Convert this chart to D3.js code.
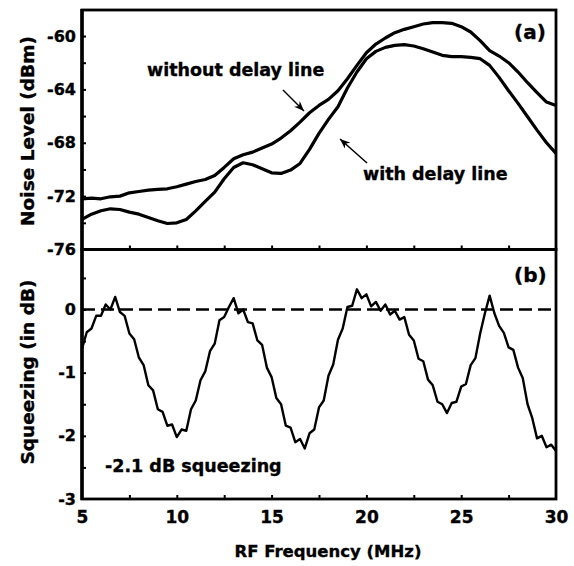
<!DOCTYPE html>
<html>
<head>
<meta charset="utf-8">
<script src="https://cdn.jsdelivr.net/npm/d3@7/dist/d3.min.js"></script>
<style>
body { margin: 0; background: #fff; }
svg text { font-family: "DejaVu Sans", sans-serif; font-weight: bold; fill: #000; stroke: #000; stroke-width: 0.35px; }
</style>
</head>
<body>
<div class="chart-wrapper"></div>
<script>
// (a) noise level, sampled every 0.5 MHz
const freqTop = [5, 5.5, 6, 6.5, 7, 7.5, 8, 8.5, 9, 9.5, 10, 10.5, 11, 11.5, 12, 12.5, 13, 13.5, 14, 14.5,
  15, 15.5, 16, 16.5, 17, 17.5, 18, 18.5, 19, 19.5, 20, 20.5, 21, 21.5, 22, 22.5, 23, 23.5, 24, 24.5,
  25, 25.5, 26, 26.5, 27, 27.5, 28, 28.5, 29, 29.5, 30];

const noiseWithout = [-72.2, -72.15, -72.2, -72.05, -72.0, -71.75, -71.65, -71.55, -71.5, -71.45,
  -71.3, -71.1, -70.9, -70.75, -70.45, -69.85, -69.2, -68.9, -68.7, -68.4,
  -68.1, -67.65, -67.1, -66.45, -65.75, -65.2, -64.75, -64.1, -63.2, -62.2,
  -61.25, -60.6, -60.15, -59.75, -59.5, -59.3, -59.1, -59.0, -59.0, -59.05,
  -59.3, -59.7, -60.35, -61.1, -61.5, -62.0, -62.7, -63.5, -64.25, -64.95, -65.2];

const noiseWith = [-73.75, -73.35, -73.1, -72.95, -73.0, -73.2, -73.35, -73.6, -73.85, -74.05,
  -74.0, -73.75, -73.1, -72.4, -71.7, -70.7, -69.85, -69.5, -69.65, -69.95,
  -70.25, -70.3, -70.05, -69.55, -68.5, -67.3, -66.25, -65.3, -63.9, -62.7,
  -61.7, -61.15, -60.85, -60.7, -60.65, -60.75, -60.95, -61.2, -61.45, -61.55,
  -61.55, -61.6, -61.7, -62.2, -63.1, -64.1, -65.05, -66.05, -67.05, -68.0, -68.8];

// (b) squeezing, sampled every 0.25 MHz
const freqBot = [5, 5.25, 5.5, 5.75, 6, 6.25, 6.5, 6.75, 7, 7.25, 7.5, 7.75, 8, 8.25, 8.5, 8.75,
  9, 9.25, 9.5, 9.75, 10, 10.25, 10.5, 10.75, 11, 11.25, 11.5, 11.75, 12, 12.25, 12.5, 12.75,
  13, 13.25, 13.5, 13.75, 14, 14.25, 14.5, 14.75, 15, 15.25, 15.5, 15.75, 16, 16.25, 16.5, 16.75,
  17, 17.25, 17.5, 17.75, 18, 18.25, 18.5, 18.75, 19, 19.25, 19.5, 19.75, 20, 20.25, 20.5, 20.75,
  21, 21.25, 21.5, 21.75, 22, 22.25, 22.5, 22.75, 23, 23.25, 23.5, 23.75, 24, 24.25, 24.5, 24.75,
  25, 25.25, 25.5, 25.75, 26, 26.25, 26.5, 26.75, 27, 27.25, 27.5, 27.75, 28, 28.25, 28.5, 28.75,
  29, 29.25, 29.5, 29.75, 30];

const squeezing = [-0.62, -0.36, -0.30, -0.10, -0.10, 0.08, 0.00, 0.20, -0.04, -0.10, -0.38, -0.47, -0.76, -0.88, -1.20, -1.28,
  -1.58, -1.62, -1.84, -1.82, -2.02, -1.90, -1.92, -1.58, -1.44, -1.12, -0.98, -0.66, -0.54, -0.17, -0.12, 0.04,
  0.18, -0.06, 0.00, -0.20, -0.22, -0.49, -0.56, -0.92, -1.07, -1.40, -1.50, -1.84, -1.87, -2.10, -2.05, -2.20,
  -1.96, -1.90, -1.55, -1.44, -1.05, -0.87, -0.48, -0.30, 0.04, 0.06, 0.32, 0.18, 0.24, 0.05, 0.12, -0.02,
  0.08, -0.08, -0.02, -0.16, -0.12, -0.40, -0.49, -0.78, -0.82, -1.11, -1.20, -1.46, -1.50, -1.64, -1.48, -1.46,
  -1.22, -1.18, -0.88, -0.77, -0.38, -0.06, 0.22, -0.06, -0.26, -0.37, -0.60, -0.64, -0.92, -1.09, -1.50, -1.72,
  -2.04, -2.00, -2.18, -2.14, -2.24];

const xTicks = [5, 10, 15, 20, 25, 30];
const xMinor = [7.5, 10, 12.5, 15, 17.5, 20, 22.5, 25, 27.5];
const yTopTicks = [-76, -72, -68, -64, -60];
const yTopMinor = [-74, -72, -70, -68, -66, -64, -62, -60];
const yBotTicks = [-3, -2, -1, 0];
const yBotMinor = [-2.5, -2, -1.5, -1, -0.5, 0, 0.5];

let width = 574;
let height = 566;

const svg = d3.select('.chart-wrapper')
.append('svg')
.attr("width", width)
.attr("height", height);

let x = d3.scaleLinear().domain([5, 30]).range([82, 556]);
let yTop = d3.scaleLinear().domain([-76, -58.05]).range([249.5, 10]);
let yBot = d3.scaleLinear().domain([-3, 0.95]).range([499, 249.5]);

// plain hyphen for negatives, like the original
let fmt = d => String(d);

svg.append("defs").append("marker")
.attr("id", "arrow")
.attr("viewBox", "0 0 10 8")
.attr("refX", 10)
.attr("refY", 4)
.attr("markerUnits", "userSpaceOnUse")
.attr("markerWidth", 10)
.attr("markerHeight", 8)
.attr("orient", "auto")
.append("path")
.attr("d", "M0,0 L10,4 L0,8 L3,4 z")
.attr("fill", "#000");

function styleAxis(g, size) {
  g.select(".domain").remove();
  g.selectAll(".tick line").attr("stroke", "#000").attr("stroke-width", 2);
  g.selectAll(".tick text").style("font-size", size + "px").attr("fill", "#000");
}

// left axes
svg.append("g")
.attr("transform", "translate(82,0)")
.call(d3.axisLeft(yTop).tickValues(yTopMinor).tickSizeInner(-4).tickSizeOuter(0).tickFormat(""))
.call(g => styleAxis(g, 16));

svg.append("g")
.attr("transform", "translate(82,0)")
.call(d3.axisLeft(yTop).tickValues(yTopTicks).tickSize(0).tickPadding(6).tickFormat(fmt))
.call(g => styleAxis(g, 16));

svg.append("g")
.attr("transform", "translate(82,0)")
.call(d3.axisLeft(yBot).tickValues(yBotMinor).tickSizeInner(-4).tickSizeOuter(0).tickFormat(""))
.call(g => styleAxis(g, 16));

svg.append("g")
.attr("transform", "translate(82,0)")
.call(d3.axisLeft(yBot).tickValues(yBotTicks).tickSize(0).tickPadding(6).tickFormat(fmt))
.call(g => styleAxis(g, 16));

// x axes: bottom and the shared middle line
svg.append("g")
.attr("transform", "translate(0,499)")
.call(d3.axisBottom(x).tickValues(xMinor).tickSizeInner(-4).tickSizeOuter(0).tickFormat(""))
.call(g => styleAxis(g, 17));

svg.append("g")
.attr("transform", "translate(0,499)")
.call(d3.axisBottom(x).tickValues(xTicks).tickSize(0).tickPadding(12).tickFormat(fmt))
.call(g => styleAxis(g, 17));

svg.append("g")
.attr("transform", "translate(0,249.5)")
.call(d3.axisBottom(x).tickValues(xMinor).tickSizeInner(-4).tickSizeOuter(0).tickFormat(""))
.call(g => styleAxis(g, 17));

// zero line
svg.append("line")
.attr("x1", x(5)).attr("x2", x(30))
.attr("y1", yBot(0)).attr("y2", yBot(0))
.attr("stroke", "#000")
.attr("stroke-width", 2.5)
.attr("stroke-dasharray", "13,6");

// curves
let lineTop = d3.line().x((d, i) => x(freqTop[i])).y(d => yTop(d));
let lineBot = d3.line().x((d, i) => x(freqBot[i])).y(d => yBot(d));

[noiseWithout, noiseWith].forEach(s => {
  svg.append("path")
  .datum(s)
  .attr("d", lineTop)
  .attr("fill", "none")
  .attr("stroke", "#000")
  .attr("stroke-width", 3.2)
  .attr("stroke-linejoin", "round");
});

svg.append("path")
.datum(squeezing)
.attr("d", lineBot)
.attr("fill", "none")
.attr("stroke", "#000")
.attr("stroke-width", 2.4)
.attr("stroke-linejoin", "round");

// frames
svg.append("rect")
.attr("x", 82).attr("y", 10)
.attr("width", 474).attr("height", 239.5)
.attr("fill", "none").attr("stroke", "#000").attr("stroke-width", 2.8);

svg.append("rect")
.attr("x", 82).attr("y", 249.5)
.attr("width", 474).attr("height", 249.5)
.attr("fill", "none").attr("stroke", "#000").attr("stroke-width", 2.8);

svg.append("line")
.attr("x1", 82).attr("x2", 82).attr("y1", 9).attr("y2", 500)
.attr("stroke", "#000").attr("stroke-width", 3.5);

// axis titles
svg.append("text")
.attr("transform", "translate(34,131) rotate(-90)")
.attr("text-anchor", "middle")
.style("font-size", "18.5px")
.text("Noise Level (dBm)");

svg.append("text")
.attr("transform", "translate(34,372) rotate(-90)")
.attr("text-anchor", "middle")
.style("font-size", "18.5px")
.text("Squeezing (in dB)");

svg.append("text")
.attr("x", 328).attr("y", 557)
.attr("text-anchor", "middle")
.style("font-size", "16.5px")
.text("RF Frequency (MHz)");

// annotations
svg.append("text").attr("x", 147).attr("y", 76).style("font-size", "17.5px").text("without delay line");
svg.append("text").attr("x", 363).attr("y", 180).style("font-size", "17.5px").text("with delay line");
svg.append("text").attr("x", 105).attr("y", 472).style("font-size", "17.5px").text("-2.1 dB squeezing");
svg.append("text").attr("x", 514).attr("y", 39).style("font-size", "20px").text("(a)");
svg.append("text").attr("x", 514).attr("y", 282).style("font-size", "20px").text("(b)");

svg.append("line")
.attr("x1", 283).attr("y1", 90).attr("x2", 304).attr("y2", 111)
.attr("stroke", "#000").attr("stroke-width", 1.5)
.attr("marker-end", "url(#arrow)");

svg.append("line")
.attr("x1", 367).attr("y1", 163).attr("x2", 340).attr("y2", 139)
.attr("stroke", "#000").attr("stroke-width", 1.5)
.attr("marker-end", "url(#arrow)");
</script>
</body>
</html>
